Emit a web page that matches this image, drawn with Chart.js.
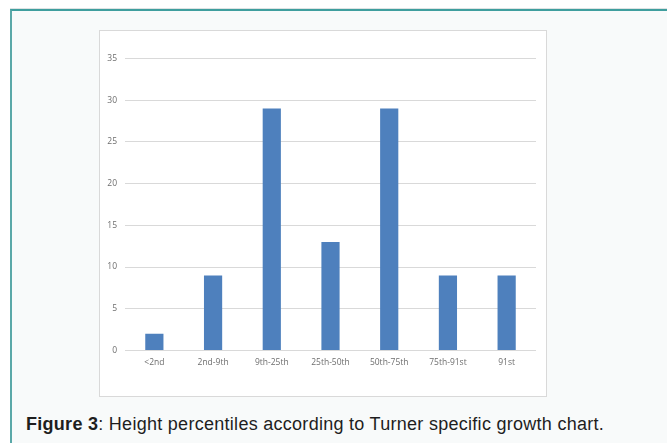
<!DOCTYPE html>
<html>
<head>
<meta charset="utf-8">
<script src="https://cdn.jsdelivr.net/npm/chart.js@4/dist/chart.umd.min.js"></script>
<style>
  html, body { margin: 0; padding: 0; background: #ffffff; width: 667px; height: 443px; overflow: hidden; }
  #frame { position: absolute; left: 10px; top: 9px; width: 700px; height: 500px;
           border-left: 2px solid #5aa8a8; border-top: 2px solid #3f9e9e; background: #f8fafa;
           box-shadow: 0 -1px 0 #dde3e3; }
  #box { position: absolute; left: 99px; top: 30px; width: 446px; height: 365px;
         background: #ffffff; border: 1px solid #d9d9d9; }
  #wrap { position: absolute; left: 0; top: 0; width: 446px; height: 365px; }
  #caption { position: absolute; left: 26px; top: 414px; font-family: "Liberation Sans", Arial, sans-serif;
             font-size: 18px; letter-spacing: 0.28px; color: #1e1e1e; white-space: nowrap; }
</style>
</head>
<body>
<div id="frame"></div>
<div id="box"><div id="wrap"><canvas id="c"></canvas></div></div>
<div id="caption"><b>Figure 3</b>: Height percentiles according to Turner specific growth chart.</div>
<script>
const categories = ["<2nd", "2nd-9th", "9th-25th", "25th-50th", "50th-75th", "75th-91st", "91st"];
const counts = [2, 9, 29, 13, 29, 9, 9];
const yTicks = [0, 5, 10, 15, 20, 25, 30, 35];

new Chart(document.getElementById('c'), {
  type: 'bar',
  data: {
    labels: categories,
    datasets: [{
      data: counts,
      backgroundColor: '#4e80bd',
      borderWidth: 0,
      categoryPercentage: 1,
      barPercentage: 0.31
    }]
  },
  options: {
    responsive: true,
    maintainAspectRatio: false,
    animation: false,
    devicePixelRatio: 1,
    layout: { padding: { left: 0, right: 10, top: 27.5, bottom: 0 } },
    plugins: { legend: { display: false }, tooltip: { enabled: false } },
    scales: {
      x: {
        grid: { display: false, drawTicks: false },
        border: { display: false },
        ticks: { color: '#6e6e6e', font: { family: '"Open Sans", sans-serif', size: 8.5 }, padding: 7, maxRotation: 0, autoSkip: false },
        afterFit(s) { s.height = 45.5; }
      },
      y: {
        min: 0, max: 35,
        afterBuildTicks(s) { s.ticks = yTicks.map(v => ({ value: v })); },
        grid: { color: '#d9d9d9', lineWidth: 1, drawTicks: false },
        border: { display: false },
        ticks: { color: '#6e6e6e', font: { family: '"Open Sans", sans-serif', size: 8.5 }, padding: 8 },
        afterFit(s) { s.width = 25; }
      }
    }
  }
});
</script>
</body>
</html>
